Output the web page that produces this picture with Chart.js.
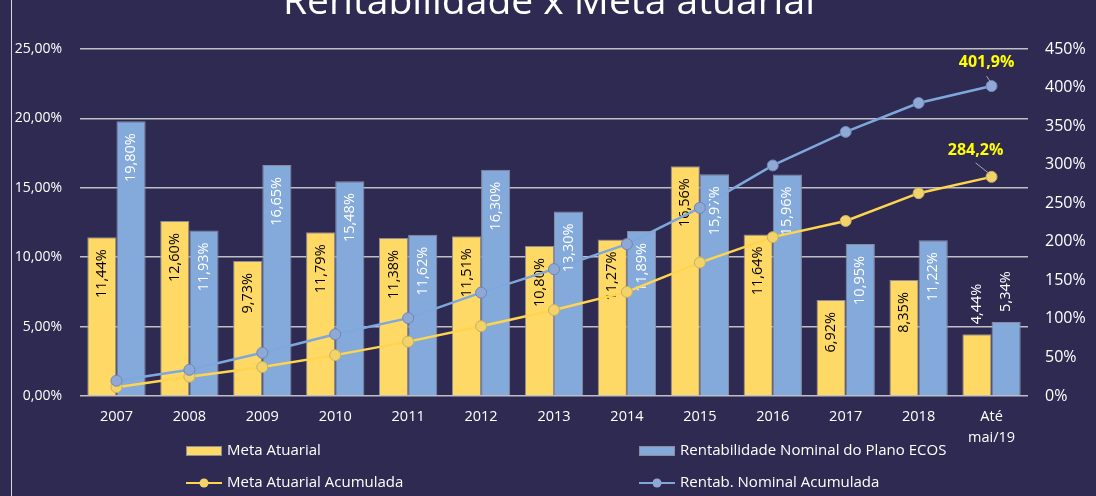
<!DOCTYPE html>
<html lang="pt">
<head>
    <meta charset="UTF-8">
    <title>Rentabilidade x Meta atuarial</title>
    <script src="https://cdn.jsdelivr.net/npm/chart.js"></script>
    <style>
        html, body { margin: 0; padding: 0; background: #2F2A52; }
        canvas { display: block; }
    </style>
</head>
<body>
    <canvas id="chart" width="1096" height="496"></canvas>

    <script>
        // data
        const categories = ['2007', '2008', '2009', '2010', '2011', '2012', '2013', '2014', '2015', '2016', '2017', '2018', ['Até', 'mai/19']];
        const metaAtuarial = [11.44, 12.60, 9.73, 11.79, 11.38, 11.51, 10.80, 11.27, 16.56, 11.64, 6.92, 8.35, 4.44];
        const rentabNominal = [19.80, 11.93, 16.65, 15.48, 11.62, 16.30, 13.30, 11.89, 15.97, 15.96, 10.95, 11.22, 5.34];
        const metaAcumulada = [11.4, 25.0, 37.5, 53.0, 70.5, 90.5, 111.5, 135.0, 173.0, 206.0, 227.0, 263.0, 284.2];
        const rentabAcumulada = [19.8, 34.0, 56.0, 80.0, 101.0, 134.0, 164.5, 197.0, 244.0, 299.0, 342.5, 380.0, 401.9];
        const leftTicks = [0, 5, 10, 15, 20, 25];
        const rightTicks = [0, 50, 100, 150, 200, 250, 300, 350, 400, 450];

        const titleText = 'Rentabilidade x Meta atuarial';
        const BG = '#2F2A52';
        const YELLOW = '#FFD966';
        const BLUE = '#84AADB';
        const FONT = '"Open Sans", "Noto Sans", sans-serif';

        const fmt2 = v => v.toFixed(2).replace('.', ',') + '%';
        const fmt1 = v => v.toFixed(1).replace('.', ',') + '%';

        // background, left rule and the (clipped) title
        const backdrop = {
            id: 'backdrop',
            beforeDraw(chart) {
                const c = chart.ctx;
                c.save();
                c.fillStyle = BG;
                c.fillRect(0, 0, chart.width, chart.height);
                c.strokeStyle = '#D8D8E0';
                c.lineWidth = 1;
                c.beginPath();
                c.moveTo(11.5, 0);
                c.lineTo(11.5, chart.height);
                c.stroke();
                c.fillStyle = '#FFFFFF';
                c.font = '39px ' + FONT;
                c.textAlign = 'center';
                c.textBaseline = 'alphabetic';
                c.fillText(titleText, 549, 14);
                c.restore();
            }
        };

        // vertical value labels on the bars
        const barLabels = {
            id: 'barLabels',
            afterDatasetDraw(chart, args) {
                const ds = chart.data.datasets[args.index];
                if (ds.type !== 'bar') return;
                const c = chart.ctx;
                const meta = args.meta;
                c.save();
                c.font = '14.5px ' + FONT;
                c.textBaseline = 'middle';
                meta.data.forEach((bar, i) => {
                    const last = i === ds.data.length - 1;
                    c.save();
                    if (last) {
                        c.translate(bar.x, bar.y - 10);
                        c.rotate(-Math.PI / 2);
                        c.textAlign = 'left';
                        c.fillStyle = '#FFFFFF';
                    } else {
                        c.translate(bar.x, bar.y + 12);
                        c.rotate(-Math.PI / 2);
                        c.textAlign = 'right';
                        c.fillStyle = ds.labelColor;
                    }
                    c.fillText(fmt2(ds.data[i]), 0, 0);
                    c.restore();
                });
                c.restore();
            }
        };

        // callouts on the last points + custom two-column legend
        const extras = {
            id: 'extras',
            afterDraw(chart) {
                const c = chart.ctx;
                c.save();
                const callouts = [
                    { ds: 3, dx: -5, dy: -24, l1: [-5, -10], l2: [-1, -4] },
                    { ds: 2, dx: -16, dy: -26, l1: [-16, -14], l2: [-2, -3] }
                ];
                callouts.forEach(o => {
                    const meta = chart.getDatasetMeta(o.ds);
                    const n = meta.data.length - 1;
                    const p = meta.data[n];
                    c.strokeStyle = '#A6A6B0';
                    c.lineWidth = 1;
                    c.beginPath();
                    c.moveTo(p.x + o.l1[0], p.y + o.l1[1]);
                    c.lineTo(p.x + o.l2[0], p.y + o.l2[1]);
                    c.stroke();
                    c.fillStyle = '#FFFF00';
                    c.font = 'bold 16px ' + FONT;
                    c.textAlign = 'center';
                    c.textBaseline = 'middle';
                    c.fillText(fmt1(chart.data.datasets[o.ds].data[n]), p.x + o.dx, p.y + o.dy);
                });

                // legend
                const items = [
                    { ds: 0, x: 186, y: 451 },
                    { ds: 1, x: 639, y: 451 },
                    { ds: 2, x: 186, y: 483 },
                    { ds: 3, x: 639, y: 483 }
                ];
                c.font = '15px ' + FONT;
                c.textAlign = 'left';
                c.textBaseline = 'middle';
                items.forEach(it => {
                    const ds = chart.data.datasets[it.ds];
                    if (ds.type === 'bar') {
                        c.fillStyle = ds.backgroundColor;
                        c.fillRect(it.x, it.y - 5, 36, 10);
                        c.strokeStyle = '#8C8C9C';
                        c.lineWidth = 1;
                        c.strokeRect(it.x + 0.5, it.y - 4.5, 35, 9);
                    } else {
                        c.strokeStyle = ds.borderColor;
                        c.lineWidth = 2;
                        c.beginPath();
                        c.moveTo(it.x, it.y);
                        c.lineTo(it.x + 36, it.y);
                        c.stroke();
                        c.fillStyle = ds.pointBackgroundColor;
                        c.beginPath();
                        c.arc(it.x + 18, it.y, 4.5, 0, Math.PI * 2);
                        c.fill();
                    }
                    c.fillStyle = '#FFFFFF';
                    c.fillText(ds.label, it.x + 41, it.y);
                });
                c.restore();
            }
        };

        const ctx = document.getElementById('chart').getContext('2d');
        new Chart(ctx, {
            data: {
                labels: categories,
                datasets: [
                    {
                        type: 'bar',
                        label: 'Meta Atuarial',
                        data: metaAtuarial,
                        backgroundColor: YELLOW,
                        borderColor: '#8C8C9C',
                        borderWidth: 1,
                        labelColor: '#000000',
                        yAxisID: 'y',
                        order: 2,
                        categoryPercentage: 0.8,
                        barPercentage: 1.0
                    },
                    {
                        type: 'bar',
                        label: 'Rentabilidade Nominal do Plano ECOS',
                        data: rentabNominal,
                        backgroundColor: BLUE,
                        borderColor: '#8C8C9C',
                        borderWidth: 1,
                        labelColor: '#FFFFFF',
                        yAxisID: 'y',
                        order: 2,
                        categoryPercentage: 0.8,
                        barPercentage: 1.0
                    },
                    {
                        type: 'line',
                        label: 'Meta Atuarial Acumulada',
                        data: metaAcumulada,
                        borderColor: '#FFD54F',
                        borderWidth: 2.5,
                        pointRadius: 5.5,
                        pointBackgroundColor: '#F2D36A',
                        pointBorderColor: '#C9B060',
                        pointBorderWidth: 1,
                        tension: 0,
                        yAxisID: 'y1',
                        order: 1
                    },
                    {
                        type: 'line',
                        label: 'Rentab. Nominal Acumulada',
                        data: rentabAcumulada,
                        borderColor: '#7EA8DC',
                        borderWidth: 2.5,
                        pointRadius: 5.5,
                        pointBackgroundColor: '#8FA9D6',
                        pointBorderColor: '#6F86B8',
                        pointBorderWidth: 1,
                        tension: 0,
                        yAxisID: 'y1',
                        order: 0
                    }
                ]
            },
            options: {
                responsive: false,
                animation: false,
                layout: { padding: { top: 49, left: 0, right: 0, bottom: 0 } },
                plugins: {
                    legend: { display: false },
                    title: { display: false },
                    tooltip: { enabled: false }
                },
                scales: {
                    x: {
                        grid: { display: false, drawTicks: false },
                        border: { display: false },
                        ticks: {
                            color: '#FFFFFF',
                            font: { family: FONT, size: 14.5, lineHeight: 1.4 },
                            padding: 11,
                            maxRotation: 0
                        },
                        afterFit(scale) { scale.height = 100; }
                    },
                    y: {
                        position: 'left',
                        min: leftTicks[0],
                        max: leftTicks[leftTicks.length - 1],
                        afterBuildTicks(scale) { scale.ticks = leftTicks.map(v => ({ value: v })); },
                        grid: { color: '#BFBFC6', lineWidth: 1.5, drawTicks: false },
                        border: { display: false },
                        ticks: {
                            color: '#FFFFFF',
                            font: { family: FONT, size: 14 },
                            padding: 18,
                            callback: v => fmt2(v)
                        },
                        afterFit(scale) { scale.width = 80; }
                    },
                    y1: {
                        position: 'right',
                        min: rightTicks[0],
                        max: rightTicks[rightTicks.length - 1],
                        afterBuildTicks(scale) { scale.ticks = rightTicks.map(v => ({ value: v })); },
                        grid: { drawOnChartArea: false, drawTicks: false },
                        border: { display: false },
                        ticks: {
                            color: '#FFFFFF',
                            font: { family: FONT, size: 16 },
                            padding: 17,
                            callback: v => v + '%'
                        },
                        afterFit(scale) { scale.width = 68; }
                    }
                }
            },
            plugins: [backdrop, barLabels, extras]
        });
    </script>
</body>
</html>
